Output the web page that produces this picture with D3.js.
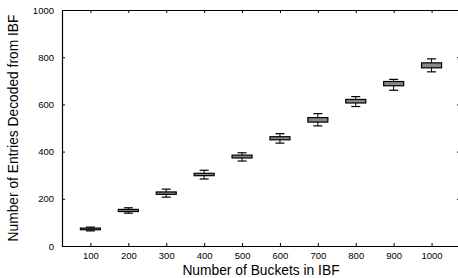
<!DOCTYPE html>
<html>
<head>
<meta charset="utf-8">
<script src="https://cdn.jsdelivr.net/npm/d3@7"></script>
<style>
  body { margin: 0; background: #fff; }
  text { font-family: "Liberation Sans", Arial, Helvetica, sans-serif; }
</style>
</head>
<body>
<svg id="chart"></svg>
<script>
// boxes per bucket count
const BUCKETS = [100, 200, 300, 400, 500, 600, 700, 800, 900, 1000];
const WHISKER_LO = [64, 139, 207, 284, 360, 436, 509, 591, 660, 738];
const Q1 = [69, 146, 219, 298, 373, 450, 525, 606, 679, 755];
const MEDIAN = [72, 150, 224, 303, 379, 456, 534, 613, 688, 765];
const Q3 = [76, 155, 229, 308, 385, 463, 544, 621, 697, 776];
const WHISKER_HI = [80, 162, 241, 321, 395, 476, 561, 633, 706, 793];
const Y_TICKS = [0, 200, 400, 600, 800, 1000];

const WIDTH = 458;
const HEIGHT = 278;
const LEFT = 62, RIGHT = 460, TOP = 10, BOTTOM = 246;

const svg = d3.select("#chart")
    .attr("width", WIDTH)
    .attr("height", HEIGHT);

const x = d3.scaleLinear().domain([25, 1075]).range([LEFT, RIGHT]);
const y = d3.scaleLinear().domain([0, 1000]).range([BOTTOM, TOP]);
const fmt = d3.format("d");

function styleAxis(g) {
    g.selectAll("path").attr("stroke", "#000").attr("stroke-width", 1.2);
    g.selectAll("line").attr("stroke", "#000");
    g.selectAll("text").attr("fill", "#000").style("font-size", "9.5px");
}

// bottom axis with labels
svg.append("g")
    .attr("transform", "translate(0," + BOTTOM + ")")
    .call(d3.axisBottom(x).tickValues(BUCKETS).tickFormat(fmt).tickSizeInner(-3).tickSizeOuter(0).tickPadding(6))
    .call(styleAxis);

// top axis, ticks only
svg.append("g")
    .attr("transform", "translate(0," + TOP + ")")
    .call(d3.axisTop(x).tickValues(BUCKETS).tickSizeInner(-3).tickSizeOuter(0).tickFormat(""))
    .call(styleAxis);

// left axis
svg.append("g")
    .attr("transform", "translate(" + LEFT + ",0)")
    .call(d3.axisLeft(y).tickValues(Y_TICKS).tickFormat(fmt).tickSizeInner(-3).tickSizeOuter(0).tickPadding(8))
    .call(styleAxis);

// right axis, ticks only
svg.append("g")
    .attr("transform", "translate(" + RIGHT + ",0)")
    .call(d3.axisRight(y).tickValues(Y_TICKS).tickSizeInner(-3).tickSizeOuter(0).tickFormat(""))
    .call(styleAxis);

const rows = BUCKETS.map(function(b, i) {
    return { b: b, lo: WHISKER_LO[i], q1: Q1[i], med: MEDIAN[i], q3: Q3[i], hi: WHISKER_HI[i] };
});

const BOX_W = 20, CAP_W = 9;

const box = svg.selectAll(".box")
    .data(rows)
    .enter().append("g")
    .attr("class", "box");

// whisker stem
box.append("line")
    .attr("x1", d => x(d.b)).attr("x2", d => x(d.b))
    .attr("y1", d => y(d.hi)).attr("y2", d => y(d.lo))
    .attr("stroke", "#000").attr("stroke-width", 1);

// caps
box.selectAll(".cap")
    .data(d => [{ b: d.b, v: d.hi }, { b: d.b, v: d.lo }])
    .enter().append("line")
    .attr("x1", d => x(d.b) - CAP_W / 2).attr("x2", d => x(d.b) + CAP_W / 2)
    .attr("y1", d => y(d.v)).attr("y2", d => y(d.v))
    .attr("stroke", "#000").attr("stroke-width", 1.2);

// box
box.append("rect")
    .attr("x", d => x(d.b) - BOX_W / 2)
    .attr("width", BOX_W)
    .attr("y", d => y(d.q3))
    .attr("height", d => y(d.q1) - y(d.q3))
    .attr("fill", "#888")
    .attr("stroke", "#000")
    .attr("stroke-width", 1.2);

// axis titles
svg.append("text")
    .attr("x", (LEFT + RIGHT) / 2)
    .attr("y", 275)
    .attr("text-anchor", "middle")
    .style("font-size", "13.8px")
    .text("Number of Buckets in IBF");

svg.append("text")
    .attr("transform", "translate(18," + (TOP + BOTTOM) / 2 + ") rotate(-90)")
    .attr("text-anchor", "middle")
    .style("font-size", "13.8px")
    .text("Number of Entries Decoded from IBF");
</script>
</body>
</html>
